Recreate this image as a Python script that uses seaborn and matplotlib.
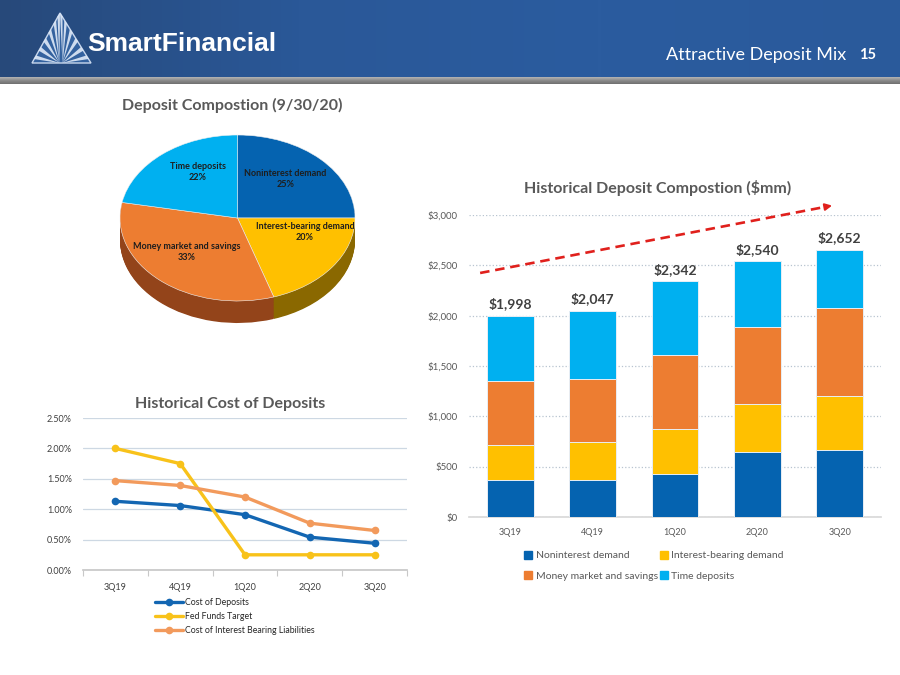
import numpy as np
import pandas as pd
import matplotlib
matplotlib.use("Agg")
import matplotlib.pyplot as plt
import seaborn as sns
from matplotlib.patches import Polygon
from matplotlib.lines import Line2D
from matplotlib.colors import LinearSegmentedColormap
from matplotlib.ticker import FuncFormatter, FixedLocator

# ---------------- data ----------------
quarters = ["3Q19", "4Q19", "1Q20", "2Q20", "3Q20"]
noninterest_demand = [363, 363, 427, 642, 668]
interest_bearing_demand = [355, 382, 450, 483, 537]
money_market_savings = [632, 625, 728, 758, 870]
time_deposits = [648, 677, 737, 657, 577]
deposit_series = ["Noninterest demand", "Interest-bearing demand",
                  "Money market and savings", "Time deposits"]

pie_labels = ["Noninterest demand", "Interest-bearing demand",
              "Money market and savings", "Time deposits"]
pie_pct = [25, 20, 33, 22]

cost_series = ["Cost of Deposits", "Fed Funds Target",
               "Cost of Interest Bearing Liabilities"]
cost_of_deposits = [1.13, 1.06, 0.91, 0.54, 0.44]
fed_funds_target = [2.00, 1.75, 0.25, 0.25, 0.25]
cost_ib_liabilities = [1.47, 1.39, 1.20, 0.77, 0.65]

# ---------------- style ----------------
sns.set_theme(style="white")
plt.rcParams['font.family'] = ['Lato', 'DejaVu Sans']

BLUE = '#0563B0'
YELLOW = '#FFC000'
ORANGE = '#ED7D31'
CYAN = '#00B0F0'
seg_colors = [BLUE, YELLOW, ORANGE, CYAN]
TITLE_C = '#595959'

fig = plt.figure(figsize=(9, 6.75), dpi=100)
fig.patch.set_facecolor('white')

# ---------------- header (pixel coordinate overlay) ----------------
hax = fig.add_axes([0, 0, 1, 1])
hax.axis('off')
hax.patch.set_alpha(0)
grad = np.linspace(0, 1, 256).reshape(1, -1)
cmap = LinearSegmentedColormap.from_list('hdr', ['#27497a', '#2a5898', '#2b5c9f', '#2a5a9b'])
hax.imshow(grad, aspect='auto', cmap=cmap, extent=[0, 900, 77, 0], zorder=0)
gband = np.linspace(0, 1, 32).reshape(-1, 1)
gcmap = LinearSegmentedColormap.from_list('gb', ['#b4b4b4', '#8a8a8a', '#6f6f6f'])
hax.imshow(gband, aspect='auto', cmap=gcmap, extent=[0, 900, 84, 77], zorder=0)
hax.set_xlim(0, 900)
hax.set_ylim(675, 0)

# logo triangle with rays
apex = (60, 13)
bl, br = (32, 63), (91, 63)
tri = Polygon([apex, bl, br], closed=True, fc='#34629f', ec='#c9d8ee', lw=1.0, zorder=1)
hax.add_patch(tri)
base_c = (61, 63)
for s in [0.15, 0.32, 0.5, 0.68, 0.86, 1.0]:
    for side, corner in ((-1, bl), (1, br)):
        ex = corner[0] + (apex[0] - corner[0]) * s
        ey = corner[1] + (apex[1] - corner[1]) * s
        hax.add_patch(Polygon([(base_c[0] + side * 1.5, base_c[1]), (ex, ey),
                               (ex + side * 2.5, ey + 3.5)],
                              closed=True, fc='#dfe9f7', ec='none', alpha=0.9, zorder=2))
hax.text(87, 44, "SmartFinancial", color='white', fontsize=19, fontweight='bold',
         family=['Liberation Sans', 'DejaVu Sans'], ha='left', va='center', zorder=3)
hax.text(846, 55, "Attractive Deposit Mix", color='white', fontsize=13,
         ha='right', va='center', zorder=3)
hax.text(868, 55, "15", color='white', fontsize=10.5, fontweight='bold',
         ha='center', va='center', zorder=3)

# ---------------- pie (pseudo 3D) ----------------
fig.text(232 / 900, 1 - 105 / 675, "Deposit Compostion (9/30/20)", ha='center',
         va='center', fontsize=11.5, fontweight='bold', color=TITLE_C)
pax = fig.add_axes([120 / 900, 1 - 323 / 675, 235 / 900, 188 / 675])
thick = 0.265
side_colors = ['#03467f', '#8a6800', '#93441a', '#0a7fb0']
nsteps = 30
for k in range(nsteps, 0, -1):
    dy = thick * k / nsteps
    pax.pie(pie_pct, colors=side_colors, startangle=90, counterclock=False,
            center=(0, -dy), radius=1, wedgeprops=dict(linewidth=0))
pax.pie(pie_pct, colors=seg_colors, startangle=90, counterclock=False,
        center=(0, 0), radius=1, wedgeprops=dict(linewidth=0.4, edgecolor='#f0f0f0'))
pax.set_aspect('auto')
pax.set_xlim(-1, 1)
pax.set_ylim(-1 - thick, 1)
pax.axis('off')
label_pos = [(0.41, 0.47), (0.574, -0.17), (-0.43, -0.41), (-0.336, 0.55)]
for lab, pct, (lx, ly) in zip(pie_labels, pie_pct, label_pos):
    pax.text(lx, ly, f"{lab}\n{pct}%", ha='center', va='center', fontsize=6.5,
             fontweight='bold', color='#1e1e1e', linespacing=1.3)

# ---------------- stacked bar chart ----------------
fig.text(658 / 900, 1 - 188 / 675, "Historical Deposit Compostion ($mm)", ha='center',
         va='center', fontsize=11.5, fontweight='bold', color=TITLE_C)
bax = fig.add_axes([469 / 900, 1 - 517 / 675, 412 / 900, 302 / 675])
layers = np.array([noninterest_demand, interest_bearing_demand,
                   money_market_savings, time_deposits])
cum = np.cumsum(layers, axis=0)
for i in reversed(range(len(deposit_series))):
    sns.barplot(x=quarters, y=cum[i], color=seg_colors[i], width=0.57,
                saturation=1, errorbar=None, edgecolor='#e8eef5', linewidth=0.7,
                ax=bax, zorder=3)
bax.set_xlim(-0.5, 4.5)
bax.set_ylim(0, 3000)
bax.set_yticks(np.arange(0, 3001, 500))
bax.yaxis.set_major_formatter(FuncFormatter(lambda v, p: f"${v:,.0f}"))
bax.yaxis.grid(True, linestyle=':', color='#b8c4d0', linewidth=0.9)
bax.set_axisbelow(True)
for sp in ['top', 'right', 'left']:
    bax.spines[sp].set_visible(False)
bax.spines['bottom'].set_color('#d9d9d9')
bax.tick_params(axis='y', length=0, labelsize=7, labelcolor=TITLE_C, pad=8)
bax.tick_params(axis='x', length=0, labelsize=6.5, labelcolor=TITLE_C, pad=8)
bax.set_xlabel('')
bax.set_ylabel('')
totals = cum[-1]
for i, tot in enumerate(totals):
    bax.text(i, tot + 55, f"${tot:,}", ha='center', va='bottom', fontsize=10,
             fontweight='bold', color='#404040')
# trend arrow
x0, y0, x1, y1 = 0.027, 0.808, 0.888, 1.033
bax.plot([x0, x0 + (x1 - x0) * 0.975], [y0, y0 + (y1 - y0) * 0.975],
         transform=bax.transAxes, clip_on=False, color='#e0201c', lw=1.9,
         dashes=(3.6, 2.2), zorder=5)
bax.annotate('', xy=(x1, y1), xytext=(x1 - (x1 - x0) * 0.03, y1 - (y1 - y0) * 0.03),
             xycoords='axes fraction', textcoords='axes fraction',
             arrowprops=dict(arrowstyle='-|>', color='#e0201c', lw=1.5,
                             mutation_scale=10), annotation_clip=False)
bar_handles = [Line2D([], [], marker='s', linestyle='none', markersize=6,
                      color=seg_colors[i], label=deposit_series[i]) for i in [0, 2, 1, 3]]
fig.legend(handles=bar_handles, loc='upper left', ncol=2, frameon=False,
           bbox_to_anchor=(519 / 900, 1 - 546 / 675), fontsize=7.5,
           handlelength=0.8, handletextpad=0.3, columnspacing=0.2,
           labelspacing=1.05, borderpad=0, labelcolor=TITLE_C)

# ---------------- line chart ----------------
fig.text(230 / 900, 1 - 404 / 675, "Historical Cost of Deposits", ha='center',
         va='center', fontsize=11.5, fontweight='bold', color=TITLE_C)
lax = fig.add_axes([83 / 900, 1 - 570 / 675, 324 / 900, 152 / 675])
line_colors = ['#1366b2', '#F8C21A', '#F29A5C']
df = pd.DataFrame({
    'Quarter': quarters * 3,
    'Rate': cost_of_deposits + fed_funds_target + cost_ib_liabilities,
    'Series': [s for s in cost_series for _ in quarters],
})
sns.lineplot(data=df, x='Quarter', y='Rate', hue='Series', hue_order=cost_series,
             palette=line_colors, marker='o', markersize=5.5, markeredgewidth=0,
             linewidth=2.4, sort=False, legend=False, ax=lax, zorder=3)
lax.set_xlim(-0.5, 4.5)
lax.set_ylim(0, 2.5)
lax.set_yticks(np.arange(0, 2.51, 0.5))
lax.yaxis.set_major_formatter(FuncFormatter(lambda v, p: f"{v:.2f}%"))
lax.yaxis.grid(True, color='#cdd8e3', linewidth=0.9)
lax.set_axisbelow(True)
for sp in ['top', 'right', 'left']:
    lax.spines[sp].set_visible(False)
lax.spines['bottom'].set_color('#c8c8c8')
lax.xaxis.set_minor_locator(FixedLocator(np.arange(-0.5, 4.6, 1)))
lax.tick_params(axis='x', which='minor', length=4, color='#c8c8c8', width=0.8, bottom=True)
lax.tick_params(axis='x', which='major', length=0, labelsize=6.5, labelcolor='#404040', pad=9)
lax.tick_params(axis='y', length=0, labelsize=6.5, labelcolor='#404040', pad=8)
lax.set_xlabel('')
lax.set_ylabel('')
line_handles = [Line2D([], [], color=c, lw=2.4, marker='o', markersize=5.5,
                       markeredgewidth=0, label=s) for c, s in zip(line_colors, cost_series)]
fig.legend(handles=line_handles, loc='upper left', frameon=False,
           bbox_to_anchor=(151 / 900, 1 - 594 / 675), fontsize=6.3,
           handlelength=3.2, handletextpad=0.2, labelspacing=0.55,
           borderpad=0, labelcolor='#262626')

fig.savefig('out.png', dpi=100, facecolor='white')
